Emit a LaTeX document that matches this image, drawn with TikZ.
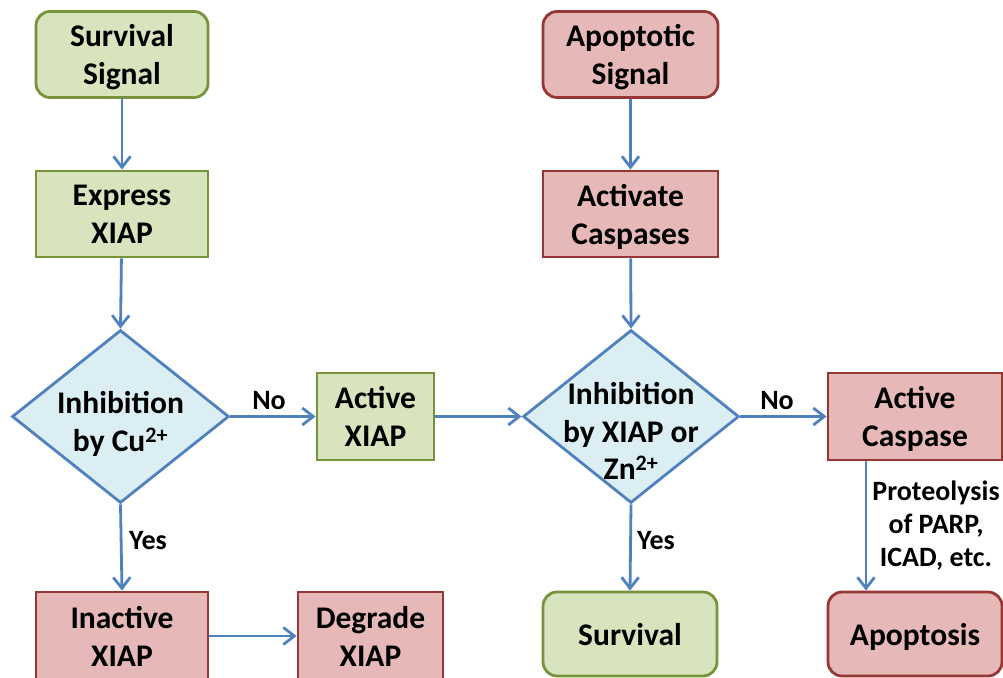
\documentclass[tikz,border=0pt]{standalone}
\usepackage{fontspec}
\setmainfont{Carlito}
\usetikzlibrary{arrows.meta,shapes.geometric}
\definecolor{gfill}{HTML}{D7E4BD}
\definecolor{gline}{HTML}{77933C}
\definecolor{rfill}{HTML}{E6B9B8}
\definecolor{rline}{HTML}{953735}
\definecolor{bfill}{HTML}{DBEEF4}
\definecolor{bline}{HTML}{4F81BD}
\tikzset{
  box/.style={draw, line width=2.8pt, minimum width=172pt, minimum height=86pt, inner sep=0pt, align=center,
    text depth=0pt, font=\fontsize{31.5}{38}\selectfont\bfseries},
  gbox/.style={box, fill=gfill, draw=gline},
  rbox/.style={box, fill=rfill, draw=rline},
  rounded/.style={rounded corners=14pt},
  dia/.style={diamond, draw=bline, fill=bfill, line width=2.8pt, minimum width=217pt, minimum height=173pt, inner sep=0pt},
  dtext/.style={align=center, font=\fontsize{31.5}{37.5}\selectfont\bfseries, inner sep=0pt},
  lab/.style={font=\fontsize{28}{33}\selectfont\bfseries, align=center, inner sep=0pt},
  arr/.style={draw=bline, line width=2.8pt, -{Straight Barb[length=11pt,width=17pt,line width=2.8pt]}},
}
\begin{document}
\begin{tikzpicture}[x=1pt,y=-1pt]
\useasboundingbox (0,0) rectangle (1003,677);
\clip (0,0) rectangle (1003,677);
% left column
\node[gbox, rounded] (ss) at (122,54.5) {Survival\\Signal};
\node[gbox] (ex) at (122,214) {Express\\XIAP};
\node[dia] (d1) at (120.5,416.5) {};
\node[dtext] (d1t) at (120.5,424) {Inhibition\\by Cu\textsuperscript{2+}};
\node[gbox, minimum width=117pt, minimum height=87pt] (ax) at (375.5,416.5) {Active\\XIAP};
\node[rbox, minimum height=88pt] (ix) at (122,636) {Inactive\\XIAP};
\node[rbox, minimum width=145pt, minimum height=88pt] (dx) at (370.5,636) {Degrade\\XIAP};
% right column
\node[rbox, rounded, minimum width=175pt] (as) at (630.5,54.5) {Apoptotic\\Signal};
\node[rbox, minimum width=175pt] (ac) at (630.5,214) {Activate\\Caspases};
\node[dia, minimum width=216pt] (d2) at (631,416.5) {};
\node[dtext] (d2t) at (631,431) {Inhibition\\by XIAP or\\Zn\textsuperscript{2+}};
\node[rbox, minimum width=174pt, minimum height=87pt] (acp) at (915,416.5) {Active\\Caspase};
\node[gbox, rounded, minimum width=174pt, minimum height=84pt] (sv) at (630,634) {Survival};
\node[rbox, rounded, minimum width=174pt, minimum height=84pt] (ap) at (915,634) {Apoptosis};
% connectors
\draw[arr] (ss) -- (ex);
\draw[arr] (ex) -- (d1.north);
\draw[arr] (d1.east) -- (ax.west);
\node[lab] (no1) at (269,401) {No};
\draw[arr] (d1.south) -- (ix.north);
\node[lab] (yes1) at (148,541) {Yes};
\draw[arr] (ix.east) -- (dx.west);
\draw[arr] (ax.east) -- (d2.west);
\draw[arr] (as) -- (ac);
\draw[arr] (ac) -- (d2.north);
\draw[arr] (d2.east) -- (acp.west);
\node[lab] (no2) at (777,401) {No};
\draw[arr] (d2.south) -- (sv.north);
\node[lab] (yes2) at (656,541) {Yes};
\draw[arr] ([xshift=-49pt]acp.south) -- ([xshift=-49pt]ap.north);
\node[lab] (prot) at (936,526) {Proteolysis\\of PARP,\\ICAD, etc.};
\end{tikzpicture}
\end{document}
